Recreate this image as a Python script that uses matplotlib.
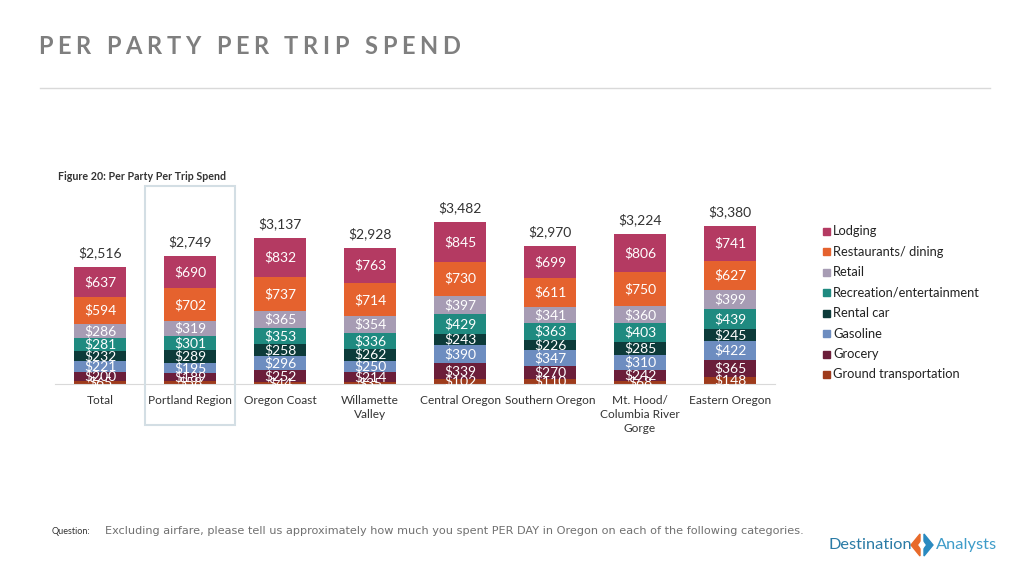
import matplotlib
matplotlib.use("Agg")
import matplotlib.pyplot as plt
from matplotlib.patches import Rectangle, Polygon
from matplotlib.lines import Line2D
import numpy as np

regions = ["Total", "Portland Region", "Oregon Coast", "Willamette\nValley", "Central Oregon",
           "Southern Oregon", "Mt. Hood/\nColumbia River\nGorge", "Eastern Oregon"]
series_names = ["Ground transportation", "Grocery", "Gasoline", "Rental car",
                "Recreation/entertainment", "Retail", "Restaurants/ dining", "Lodging"]
ground = [65, 58, 44, 35, 102, 110, 68, 148]
grocery = [200, 189, 252, 214, 339, 270, 242, 365]
gasoline = [221, 195, 296, 250, 390, 347, 310, 422]
rental = [232, 289, 258, 262, 243, 226, 285, 245]
recreation = [281, 301, 353, 336, 429, 363, 403, 439]
retail = [286, 319, 365, 354, 397, 341, 360, 399]
restaurants = [594, 702, 737, 714, 730, 611, 750, 627]
lodging = [637, 690, 832, 763, 845, 699, 806, 741]
totals = [2516, 2749, 3137, 2928, 3482, 2970, 3224, 3380]

colors = ["#9E3B1C", "#6B1E3A", "#6D8DC0", "#0D3B3A", "#1F8A80", "#A79CB4", "#E5622E", "#B43A62"]
series = [ground, grocery, gasoline, rental, recreation, retail, restaurants, lodging]

plt.rcParams['font.family'] = ['Lato', 'DejaVu Sans']
fig = plt.figure(figsize=(10.24, 5.76), dpi=100)

W, H = 1024, 576
def fx(px): return px / W
def fy(py): return 1 - py / H

ax = fig.add_axes([fx(55), fy(384), fx(775 - 55), (384 - 190) / H])
x = np.arange(len(regions))
bottom = np.zeros(len(regions))
for vals, c in zip(series, colors):
    v = np.array(vals, dtype=float)
    ax.bar(x, v, bottom=bottom, width=0.58, color=c, edgecolor='none')
    for xi, b, vi in zip(x, bottom, v):
        ax.text(xi, b + vi / 2, f"${int(vi):,}", ha='center', va='center',
                color='white', fontsize=10)
    bottom += v
for xi, t, b in zip(x, totals, bottom):
    ax.text(xi, max(t, b) + 170, f"${t:,}", ha='center', va='bottom', color='#333333', fontsize=10)
ax.set_xlim(-0.5, len(regions) - 0.5)
ax.set_ylim(0, 4170)
ax.set_yticks([])
ax.set_xticks(x)
ax.set_xticklabels(regions, fontsize=8.6, color='#333333', linespacing=1.35)
ax.tick_params(axis='x', length=0, pad=8)
for s in ['top', 'right', 'left']:
    ax.spines[s].set_visible(False)
ax.spines['bottom'].set_color('#D9D9D9')
ax.patch.set_alpha(0)

# highlight box
fig.patches.append(Rectangle((fx(145), fy(425)), fx(90), (425 - 186) / H, transform=fig.transFigure,
                             fill=False, edgecolor='#D3DEE4', lw=1.5, zorder=0))

# legend
leg_names = list(reversed(series_names))
leg_colors = list(reversed(colors))
for i, (n, c) in enumerate(zip(leg_names, leg_colors)):
    yy = 231 + i * 20.5
    fig.patches.append(Rectangle((fx(823), fy(yy + 3.5)), fx(7), 7 / H, transform=fig.transFigure,
                                 color=c))
    fig.text(fx(833), fy(yy), n, fontsize=9.3, color='#222222', va='center', ha='left')

# title with letter spacing (laid out char by char)
title = "PER PARTY PER TRIP SPEND"
title_size = 17
renderer = fig.canvas.get_renderer()
widths = []
for ch in title:
    if ch == " ":
        widths.append(None)
        continue
    t = fig.text(0, 0, ch, fontsize=title_size, fontweight='bold')
    widths.append(t.get_window_extent(renderer).width)
    t.remove()
n_letters = sum(1 for w in widths if w is not None)
n_spaces = title.count(" ")
target = 460 - 38
letter_sum = sum(w for w in widths if w is not None)
n_gaps = n_letters - 1 - n_spaces
track = (target - letter_sum) / (n_gaps + 3.2 * n_spaces)
xpos = 38.0
for ch, w in zip(title, widths):
    if w is None:
        xpos += 3.2 * track - track
        continue
    fig.text(fx(xpos), fy(47), ch, fontsize=title_size, fontweight='bold', color='#7F7F7F',
             va='center', ha='left')
    xpos += w + track
fig.add_artist(Line2D([fx(40), fx(990)], [fy(88), fy(88)], color='#D9D9D9', lw=1))

fig.text(fx(58), fy(176), "Figure 20: Per Party Per Trip Spend", fontsize=7.7, fontweight='bold',
         color='#333333', va='center', ha='left')

fig.text(fx(52), fy(532), "Question:", fontsize=6.5, color='#333333', va='center', ha='left')
fig.text(fx(105), fy(531), "Excluding airfare, please tell us approximately how much you spent PER DAY in Oregon on each of the following categories.",
         fontsize=8.1, color='#707070', va='center', ha='left', family=['DejaVu Sans'])

# logo
fig.text(fx(828), fy(545), "Destination", fontsize=11.8, color='#2A7BA6', va='center', ha='left')
fig.text(fx(936), fy(545), "Analysts", fontsize=11.8, color='#3E9CC9', va='center', ha='left')
cx, cy = 922, 545
fig.patches.append(Polygon([[fx(cx - 11), fy(cy)], [fx(cx - 2), fy(cy - 11)], [fx(cx - 2), fy(cy + 11)]],
                           closed=True, transform=fig.transFigure, color='#E86A2A'))
fig.patches.append(Polygon([[fx(cx + 11), fy(cy)], [fx(cx + 2), fy(cy - 11)], [fx(cx + 2), fy(cy + 11)]],
                           closed=True, transform=fig.transFigure, color='#2A8AC0'))
fig.patches.append(Polygon([[fx(cx - 3), fy(cy)], [fx(cx), fy(cy - 4)], [fx(cx + 3), fy(cy)], [fx(cx), fy(cy + 4)]],
                           closed=True, transform=fig.transFigure, color='white'))

fig.savefig("out.png", dpi=100, facecolor='white')
